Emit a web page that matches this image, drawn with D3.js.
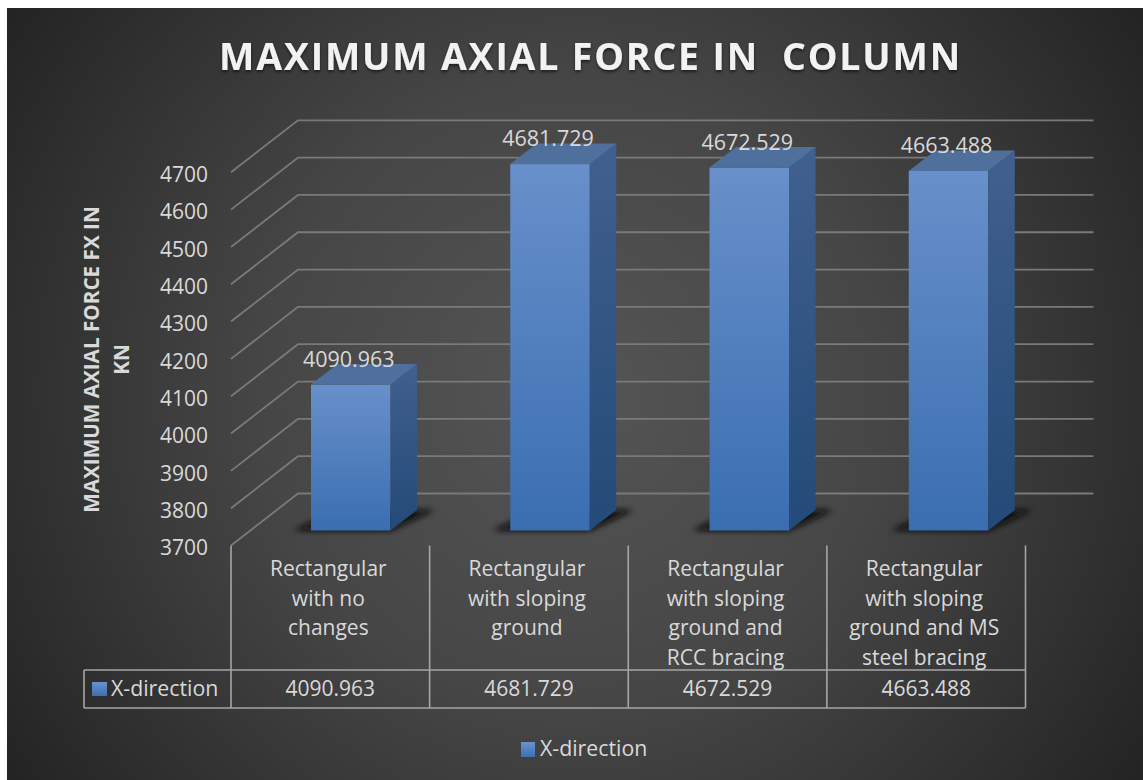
<!DOCTYPE html>
<html>
<head>
<meta charset="utf-8">
<style>
html,body{margin:0;padding:0;background:#fff;overflow:hidden}
svg{display:block}
text{font-family:"Open Sans",sans-serif;fill:#d9d9d9}
</style>
<script src="https://cdn.jsdelivr.net/npm/d3@7/dist/d3.min.js"></script>
</head>
<body>
<svg id="chart" width="1143" height="780"></svg>
<script>
const chartTitle = "MAXIMUM AXIAL FORCE IN  COLUMN";
const axisTitleLines = ["MAXIMUM AXIAL FORCE FX IN", "KN"];
const seriesName = "X-direction";
const categories = [
  "Rectangular with no changes",
  "Rectangular with sloping ground",
  "Rectangular with sloping ground and RCC bracing",
  "Rectangular with sloping ground and MS steel bracing"
];
const categoryLines = [
  ["Rectangular", "with no", "changes"],
  ["Rectangular", "with sloping", "ground"],
  ["Rectangular", "with sloping", "ground and", "RCC bracing"],
  ["Rectangular", "with sloping", "ground and MS", "steel bracing"]
];
const values = [4090.963, 4681.729, 4672.529, 4663.488];
const yTicks = [3700, 3800, 3900, 4000, 4100, 4200, 4300, 4400, 4500, 4600, 4700];

const svg = d3.select("#chart");
const defs = svg.append("defs");

const bgGrad = defs.append("radialGradient").attr("id", "bg")
  .attr("gradientUnits", "userSpaceOnUse")
  .attr("cx", 575).attr("cy", 394).attr("r", 690);
[[0, "#555555"], [0.45, "#464646"], [1, "#232323"]].forEach(([o, c]) =>
  bgGrad.append("stop").attr("offset", o).attr("stop-color", c));

function vGrad(id, top, bottom) {
  const g = defs.append("linearGradient").attr("id", id)
    .attr("x1", 0).attr("y1", 0).attr("x2", 0).attr("y2", 1);
  g.append("stop").attr("offset", 0).attr("stop-color", top);
  g.append("stop").attr("offset", 1).attr("stop-color", bottom);
}
vGrad("barFront", "#6890ca", "#3a6eb1");
vGrad("barSide", "#41608f", "#234a78");
vGrad("key", "#6a92cc", "#3c70b3");

defs.append("filter").attr("id", "blurShadow")
  .attr("x", "-30%").attr("y", "-60%").attr("width", "160%").attr("height", "220%")
  .append("feGaussianBlur").attr("stdDeviation", 3.2);
const ts = defs.append("filter").attr("id", "titleShadow")
  .attr("x", "-5%").attr("y", "-20%").attr("width", "110%").attr("height", "150%");
ts.append("feDropShadow").attr("dx", 0).attr("dy", 2).attr("stdDeviation", 1.5)
  .attr("flood-color", "#000").attr("flood-opacity", 0.55);

svg.append("rect").attr("x", 7).attr("y", 8).attr("width", 1136).attr("height", 772)
  .attr("fill", "url(#bg)");

// title
svg.append("text").attr("x", 590.5).attr("y", 69.5).attr("text-anchor", "middle")
  .attr("xml:space", "preserve").style("white-space", "pre")
  .attr("font-size", 37.5).attr("font-weight", 700).attr("letter-spacing", 1.8)
  .attr("filter", "url(#titleShadow)").style("fill", "#f2f2f2").text(chartTitle);

// scales
const y = d3.scaleLinear().domain([3700, 4700]).range([545.5, 172.3]);
const x = d3.scaleBand().domain(categories).range([231, 1025.5]);
const xBar = d3.scaleBand().domain(categories).range([311, 1108]);
const depthX = 67, depthY = 52;          // wall depth
const barDX = 26.5, barDY = 20.5;        // bar depth
const floorShift = 15;                   // bars stand in front of the back wall
const barW = 79.5;

// walls / gridlines
const gridEnd = 1093.5;
svg.append("g").selectAll("path").data(yTicks).join("path")
  .attr("d", t => `M231,${y(t)}L${231 + depthX},${y(t) - depthY}L${gridEnd},${y(t) - depthY}`)
  .attr("fill", "none").attr("stroke", "#7a7a7a").attr("stroke-width", 1.8);

// y axis
const yAxis = svg.append("g").attr("transform", "translate(210,2.5)")
  .call(d3.axisLeft(y).tickValues(yTicks).tickSize(0).tickPadding(2).tickFormat(d3.format("d")));
yAxis.select(".domain").remove();
yAxis.selectAll("text").attr("font-size", 21).style("fill", "#d9d9d9");

// axis title
const axT = svg.append("text").attr("transform", "translate(99,359.5) rotate(-90)")
  .attr("text-anchor", "middle").attr("font-size", 20.7).attr("font-weight", 700);
axisTitleLines.forEach((l, i) =>
  axT.append("tspan").attr("x", 0).attr("dy", i ? 30 : 0).text(l));

// bars
const rows = categories.map((c, i) => ({c, v: values[i]}));
const bars = svg.append("g").selectAll("g").data(rows).join("g");
const base = y(3700) - floorShift;
const topY = d => y(d.v) - floorShift;

bars.append("path")
  .attr("d", d => {
    const l = xBar(d.c);
    return `M${l - 18},${base}L${l + barW},${base}L${l + barW + barDX + 18},${base - barDY}L${l + barDX},${base - barDY}Z`;
  })
  .attr("fill", "#0c0c0c").attr("filter", "url(#blurShadow)");
bars.append("rect")
  .attr("x", d => xBar(d.c)).attr("y", topY)
  .attr("width", barW).attr("height", d => base - topY(d))
  .attr("fill", "url(#barFront)");
bars.append("path")
  .attr("d", d => {
    const r = xBar(d.c) + barW, t = topY(d);
    return `M${r},${t}L${r + barDX},${t - barDY}L${r + barDX},${base - barDY}L${r},${base}Z`;
  })
  .attr("fill", "url(#barSide)");
bars.append("path")
  .attr("d", d => {
    const l = xBar(d.c), t = topY(d);
    return `M${l},${t}L${l + barDX},${t - barDY}L${l + barW + barDX},${t - barDY}L${l + barW},${t}Z`;
  })
  .attr("fill", "#4f6f9d");
bars.append("text")
  .attr("x", d => xBar(d.c) + barW / 2 - 2).attr("y", d => topY(d) - 18)
  .attr("text-anchor", "middle").attr("font-size", 21.5).text(d => d3.format(".3f")(d.v));

// data table
const tTop = 670, tBottom = 708, tLeft = 84, axisBottom = 545.5;
const line = (x1, y1, x2, y2) => svg.append("line")
  .attr("x1", x1).attr("y1", y1).attr("x2", x2).attr("y2", y2)
  .attr("stroke", "#a6a6a6").attr("stroke-width", 1.6);
line(tLeft, tTop, x.range()[1], tTop);
line(tLeft, tBottom, x.range()[1], tBottom);
line(tLeft, tTop, tLeft, tBottom);
categories.forEach(c => line(x(c), axisBottom, x(c), tBottom));
line(x.range()[1], axisBottom, x.range()[1], tBottom);

categories.forEach((c, i) => {
  const cx = x(c) + x.bandwidth() / 2;
  const t = svg.append("text").attr("text-anchor", "middle").attr("font-size", 21);
  categoryLines[i].forEach((l, j) =>
    t.append("tspan").attr("x", cx - 2).attr("y", 576 + j * 29.5).text(l));
  svg.append("text").attr("x", cx).attr("y", 696).attr("text-anchor", "middle")
    .attr("font-size", 21).text(d3.format(".3f")(values[i]));
});

svg.append("rect").attr("x", 92).attr("y", 682).attr("width", 15).attr("height", 14).attr("fill", "url(#key)");
svg.append("text").attr("x", 111).attr("y", 696).attr("font-size", 21.3).text(seriesName);

// legend
svg.append("rect").attr("x", 521).attr("y", 742).attr("width", 14).attr("height", 15).attr("fill", "url(#key)");
svg.append("text").attr("x", 540).attr("y", 756).attr("font-size", 21.3).text(seriesName);
</script>
</body>
</html>
